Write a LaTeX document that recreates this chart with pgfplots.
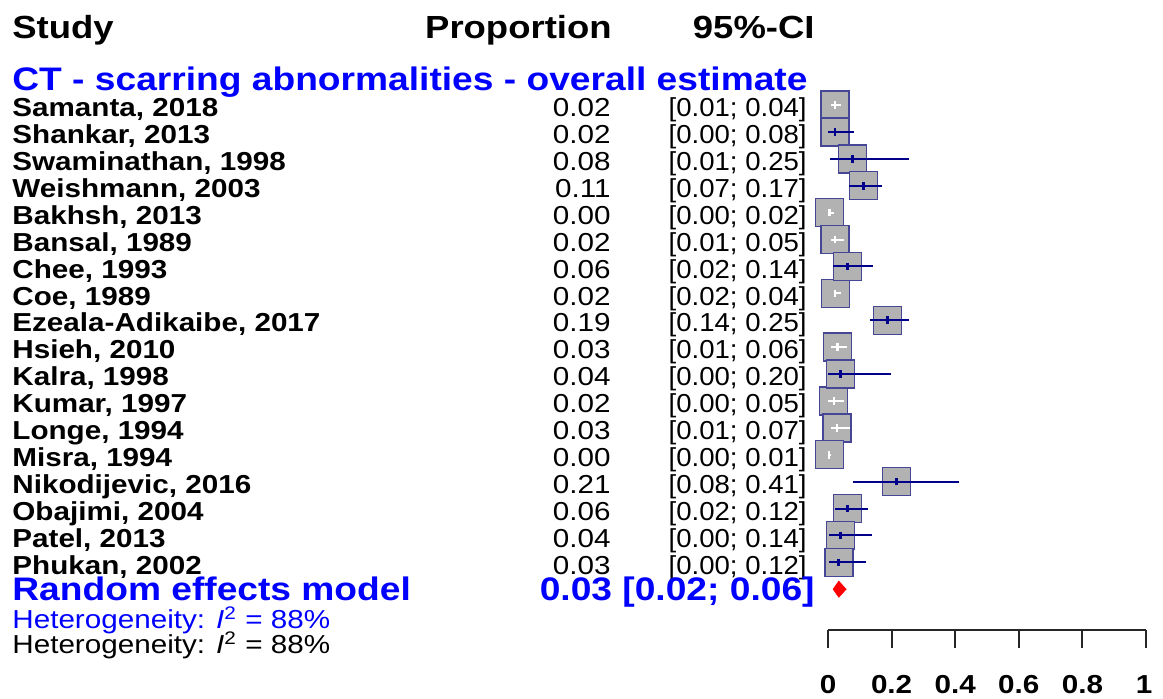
\documentclass[border=0pt]{standalone}
\usepackage{fontspec}
\setmainfont{Liberation Sans}
\usepackage{graphicx}
\usepackage{pgfplots}
\usepackage{pgfplotstable}
\pgfplotsset{compat=1.18}
\definecolor{ciblue}{RGB}{0,0,139}
\definecolor{boxgray}{RGB}{178,178,178}
\definecolor{boxedge}{RGB}{70,70,150}
\definecolor{pureblue}{RGB}{0,0,255}
\newcommand{\sx}[1]{\scalebox{1.14}[1]{#1}}
\newcommand{\sci}[1]{\scalebox{1.06}[1]{#1}}
\tikzset{rowtxt/.style={font=\fontsize{13}{15}\selectfont, inner sep=0pt},
         headtxt/.style={font=\fontsize{16}{18}\selectfont\bfseries, inner sep=0pt},
         bluetxt/.style={font=\fontsize{16.3}{18}\selectfont\bfseries, inner sep=0pt, text=pureblue}}
\newcommand{\studyrow}[4]{%
  \node[rowtxt, anchor=base west] at (axis cs:12,#1) {\sx{\bfseries #2}};
  \node[rowtxt, anchor=base east] at (axis cs:611,#1) {\sx{#3}};
  \node[rowtxt, anchor=base east] at (axis cs:807,#1) {\sci{#4}};
}

% studies whose CI lies inside the box (white CI line)
\pgfplotstableread{
r  est    lo    hi
1  0.0215 0.01  0.04
5  0.005  0.00  0.02
6  0.022  0.01  0.05
8  0.023  0.02  0.04
10 0.030  0.01  0.06
12 0.018  0.00  0.05
13 0.028  0.01  0.07
14 0.004  0.00  0.01
}\inside
% studies whose CI extends beyond the box (dark blue CI line)
\pgfplotstableread{
r  est   lo    hi
2  0.022 0.001 0.083
3  0.077 0.006 0.255
4  0.111 0.065 0.171
7  0.062 0.017 0.140
9  0.188 0.132 0.254
11 0.039 0.000 0.198
15 0.215 0.080 0.413
16 0.062 0.022 0.125
17 0.040 0.004 0.139
18 0.034 0.004 0.118
}\outside

\begin{document}
\begin{tikzpicture}
% ---------------- data axis ----------------
\begin{axis}[width=581.5pt, height=349pt, scale only axis,
  xmin=-2.6038, xmax=1.0535, ymin=-2.9033, ymax=23.0446, y dir=reverse,
  hide axis, clip=false, clip marker paths=true]
\addplot[only marks, mark=square*, mark size=7pt,
  mark options={fill=boxgray, draw=boxedge, line width=0.7pt}]
  table[x=est, y=r]{\inside};
\addplot[only marks, mark=square*, mark size=7pt,
  mark options={fill=boxgray, draw=boxedge, line width=0.7pt}]
  table[x=est, y=r]{\outside};
\addplot[only marks, mark=|, mark size=1.9pt, mark options={white, line width=1.1pt},
  error bars/.cd, x dir=both, x explicit, error mark=none,
  error bar style={white, line width=1pt}]
  table[x=est, y=r, x error plus expr=\thisrow{hi}-\thisrow{est},
        x error minus expr=\thisrow{est}-\thisrow{lo}]{\inside};
\addplot[only marks, mark=|, mark size=1.9pt, mark options={ciblue, line width=1.4pt},
  error bars/.cd, x dir=both, x explicit, error mark=none,
  error bar style={ciblue, line width=1pt}]
  table[x=est, y=r, x error plus expr=\thisrow{hi}-\thisrow{est},
        x error minus expr=\thisrow{est}-\thisrow{lo}]{\outside};
% random effects diamond
\addplot[fill=red, draw=red, line width=0.3pt]
  coordinates {(0.016,19) (0.034,18.7) (0.057,19) (0.034,19.3) (0.016,19)};
\end{axis}
% ---------------- text axis (pixel frame) ----------------
\begin{axis}[width=581.5pt, height=349pt, scale only axis,
  xmin=0, xmax=1163, ymin=0, ymax=698, y dir=reverse,
  hide axis, clip=false]
\path (axis cs:0,0) rectangle (axis cs:1163,698);
\node[headtxt, anchor=base west] at (axis cs:12,38) {\sx{Study}};
\node[headtxt, anchor=base east] at (axis cs:612,38) {\sx{Proportion}};
\node[headtxt, anchor=base east] at (axis cs:815,38) {\sx{95\%-CI}};
\node[bluetxt, anchor=base west] at (axis cs:12,90.7) {\sx{CT - scarring abnormalities - overall estimate}};
\studyrow{116.7}{Samanta, 2018}{0.02}{[0.01; 0.04]}
\studyrow{143.6}{Shankar, 2013}{0.02}{[0.00; 0.08]}
\studyrow{170.5}{Swaminathan, 1998}{0.08}{[0.01; 0.25]}
\studyrow{197.4}{Weishmann, 2003}{0.11}{[0.07; 0.17]}
\studyrow{224.3}{Bakhsh, 2013}{0.00}{[0.00; 0.02]}
\studyrow{251.2}{Bansal, 1989}{0.02}{[0.01; 0.05]}
\studyrow{278.1}{Chee, 1993}{0.06}{[0.02; 0.14]}
\studyrow{305.0}{Coe, 1989}{0.02}{[0.02; 0.04]}
\studyrow{331.9}{Ezeala-Adikaibe, 2017}{0.19}{[0.14; 0.25]}
\studyrow{358.8}{Hsieh, 2010}{0.03}{[0.01; 0.06]}
\studyrow{385.7}{Kalra, 1998}{0.04}{[0.00; 0.20]}
\studyrow{412.6}{Kumar, 1997}{0.02}{[0.00; 0.05]}
\studyrow{439.5}{Longe, 1994}{0.03}{[0.01; 0.07]}
\studyrow{466.4}{Misra, 1994}{0.00}{[0.00; 0.01]}
\studyrow{493.3}{Nikodijevic, 2016}{0.21}{[0.08; 0.41]}
\studyrow{520.2}{Obajimi, 2004}{0.06}{[0.02; 0.12]}
\studyrow{547.1}{Patel, 2013}{0.04}{[0.00; 0.14]}
\studyrow{574.0}{Phukan, 2002}{0.03}{[0.00; 0.12]}
\node[bluetxt, anchor=base west] at (axis cs:12,600.9) {\sx{Random effects model}};
\node[bluetxt, anchor=base east] at (axis cs:815,600.9) {\sx{0.03 [0.02; 0.06]}};
\node[rowtxt, anchor=base west, text=pureblue] at (axis cs:12,628) {\sx{Heterogeneity: \textit{I}\textsuperscript{2} = 88\%}};
\node[rowtxt, anchor=base west] at (axis cs:12,653) {\sx{Heterogeneity: \textit{I}\textsuperscript{2} = 88\%}};
% x axis
\draw[line width=1pt, black!85] (axis cs:828,630) -- (axis cs:1146,630);
\draw[line width=1pt, black!85] (axis cs:828,630) -- (axis cs:828,648);
\draw[line width=1pt, black!85] (axis cs:891.6,630) -- (axis cs:891.6,648);
\draw[line width=1pt, black!85] (axis cs:955.2,630) -- (axis cs:955.2,648);
\draw[line width=1pt, black!85] (axis cs:1018.8,630) -- (axis cs:1018.8,648);
\draw[line width=1pt, black!85] (axis cs:1082.4,630) -- (axis cs:1082.4,648);
\draw[line width=1pt, black!85] (axis cs:1146,630) -- (axis cs:1146,648);
\node[rowtxt, anchor=base] at (axis cs:828,693) {\sx{\bfseries 0}};
\node[rowtxt, anchor=base] at (axis cs:891.6,693) {\sx{\bfseries 0.2}};
\node[rowtxt, anchor=base] at (axis cs:955.2,693) {\sx{\bfseries 0.4}};
\node[rowtxt, anchor=base] at (axis cs:1018.8,693) {\sx{\bfseries 0.6}};
\node[rowtxt, anchor=base] at (axis cs:1082.4,693) {\sx{\bfseries 0.8}};
\node[rowtxt, anchor=base] at (axis cs:1144,693) {\sx{\bfseries 1}};
\end{axis}
\end{tikzpicture}
\end{document}
